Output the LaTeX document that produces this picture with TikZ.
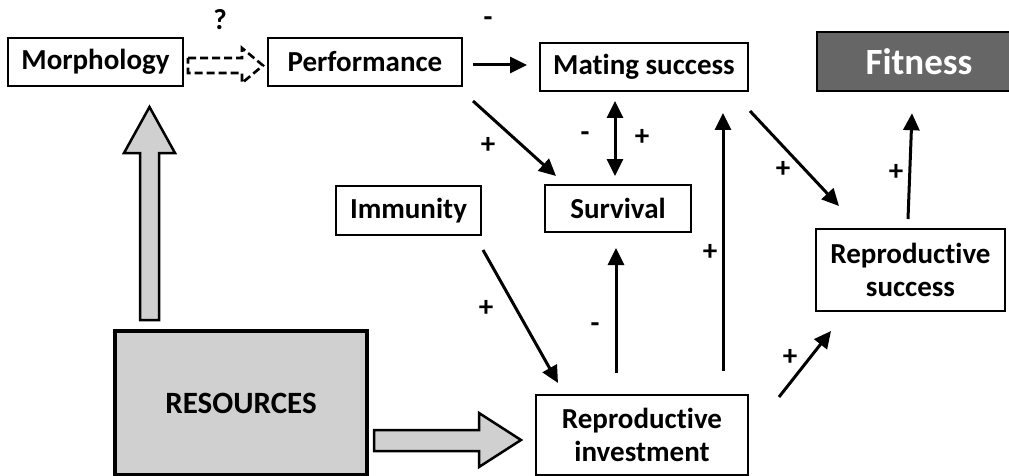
\documentclass[tikz,border=0pt]{standalone}
\usepackage{fontspec}
\setmainfont[Ligatures={NoCommon,NoContextual},RawFeature={-liga;-clig;-dlig;-calt}]{Carlito}
\usetikzlibrary{arrows.meta}
\definecolor{boxgray}{HTML}{D0D0D0}
\definecolor{fitgray}{HTML}{666666}
\tikzset{
  box/.style={draw=black, line width=2pt, fill=white, inner sep=0pt, align=center,
    font=\fontsize{29}{33}\selectfont\bfseries},
  arr/.style={line width=3pt, -{Triangle[length=17pt,width=16pt]}},
  darr/.style={line width=3pt, {Triangle[length=17pt,width=16pt]}-{Triangle[length=17pt,width=16pt]}},
  sign/.style={font=\fontsize{29}{33}\selectfont\bfseries, inner sep=0pt},
  block/.style={draw=black, line width=2.5pt, fill=boxgray, line join=miter}
}
\begin{document}
\begin{tikzpicture}[x=1pt,y=-1pt]
\useasboundingbox (0,0) rectangle (1009,476);
% boxes
\node[box, minimum width=175pt, minimum height=48pt] (morph) at (95.5,62) {Morphology};
\node[box, minimum width=194pt, minimum height=48pt] (perf) at (365,62) {Performance};
\node[box, minimum width=208pt, minimum height=48pt] (mat) at (644,67) {Mating success};
\node[box, draw=black, line width=2.5pt, fill=fitgray, text=white, minimum width=204pt, minimum height=59pt,
  font=\fontsize{37}{40}\selectfont\bfseries] (fit) at (919,61.5) {Fitness};
\node[box, minimum width=146pt, minimum height=47pt] (surv) at (618,208.5) {Survival};
\node[box, minimum width=145pt, minimum height=49pt] (imm) at (408.5,210.5) {Immunity};
\node[box, minimum width=189pt, minimum height=82pt] (rs) at (910.5,270) {Reproductive\\success};
\node[box, minimum width=212pt, minimum height=80pt] (inv) at (642,435) {Reproductive\\investment};
\node[box, line width=3.5pt, fill=boxgray, minimum width=252pt, minimum height=144pt,
  font=\fontsize{31}{36}\selectfont\bfseries] (res) at (241,403) {RESOURCES};
% block arrows
\draw[block] (140,320) -- (140,153) -- (124,153) -- (149.5,107) -- (175,153) -- (159,153) -- (159,320) -- cycle;
\draw[block] (374,430) -- (479,430) -- (479,413) -- (521,440) -- (479,467) -- (479,451) -- (374,451) -- cycle;
% dashed open arrow
\draw[line width=2.6pt, dash pattern=on 8pt off 4pt, line join=miter]
  (188,58) -- (242,58) -- (242,48) -- (263,65.5) -- (242,83) -- (242,73) -- (188,73) -- cycle;
% connectors
\draw[arr] ([shift={(10,3)}]perf.east) -- ([shift={(-12,-2)}]mat.west);
\draw[arr] ([shift={(10,14)}]perf.south east) -- ([shift={(12,-8)}]surv.north west);
\draw[darr] ([shift={(-29,9)}]mat.south) -- ([shift={(-3,-8)}]surv.north);
\draw[arr] ([shift={(-26,-21)}]inv.north) -- ([shift={(-2,15)}]surv.south);
\draw[arr] ([shift={(-26,-23)}]inv.north east) -- ([shift={(-26,21)}]mat.south east);
\draw[arr] ([shift={(1,14)}]imm.south east) -- ([shift={(23,-11)}]inv.north west);
\draw[arr] ([shift={(1,19)}]mat.south east) -- ([shift={(24,-22)}]rs.north west);
\draw[arr] ([shift={(-2.5,-9)}]rs.north) -- ([shift={(-7,21)}]fit.south);
\draw[arr] ([shift={(30,3)}]inv.north east) -- ([shift={(16,19)}]rs.south west);
% labels
\node[sign] (q) at (220,20) {?};
\node[sign] (l1) at (488,22) {-};
\node[sign] (l2) at (488,145) {+};
\node[sign] (l3) at (585,137) {-};
\node[sign] (l4) at (642,137) {+};
\node[sign] (l5) at (783,169) {+};
\node[sign] (l6) at (896,172) {+};
\node[sign] (l7) at (710,252) {+};
\node[sign] (l8) at (595,328) {-};
\node[sign] (l9) at (486,308) {+};
\node[sign] (l10) at (790,357) {+};
\end{tikzpicture}
\end{document}
